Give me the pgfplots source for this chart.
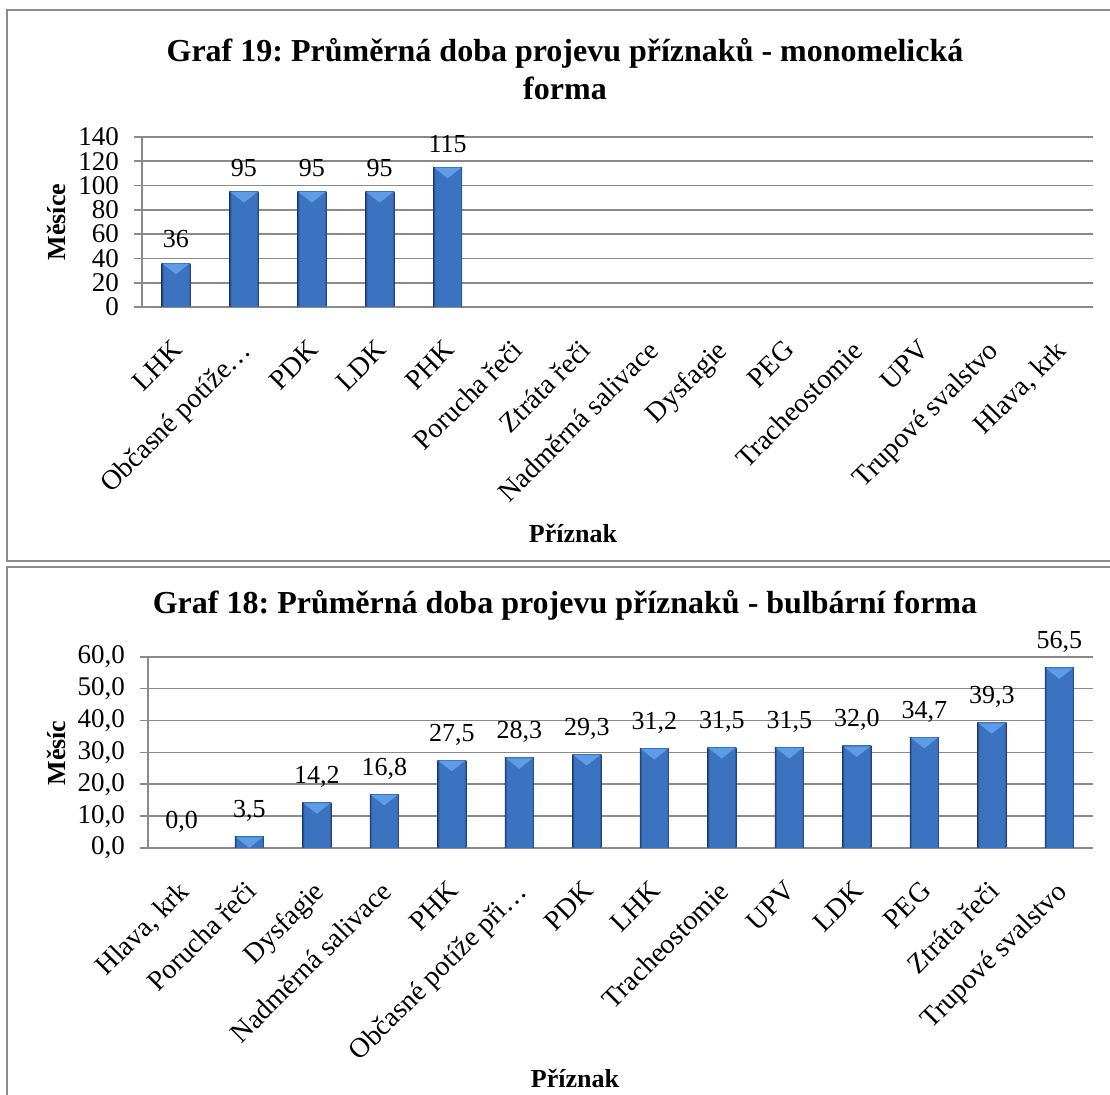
\documentclass[border=0pt]{standalone}
\usepackage{fontspec}
\setmainfont{Liberation Serif}
\usepackage{pgfplots}
\pgfplotsset{compat=1.18}
\definecolor{gridc}{HTML}{8A8A8A}
\definecolor{barmid}{HTML}{3B73C0}
\definecolor{baredge}{HTML}{1D3D70}
\definecolor{bevelc}{HTML}{5E9DE6}
\definecolor{framec}{HTML}{8C8C8C}
\pgfdeclarehorizontalshading{barshade}{100bp}{color(0bp)=(baredge); color(25bp)=(baredge); color(28.5bp)=(barmid); color(71.5bp)=(barmid); color(75bp)=(baredge); color(100bp)=(baredge)}
\pgfdeclareplotmark{bevel}{%
  \pgfpathmoveto{\pgfpoint{-6.6pt}{-0.3pt}}%
  \pgfpathlineto{\pgfpoint{6.6pt}{-0.3pt}}%
  \pgfpathlineto{\pgfpoint{0pt}{-5.5pt}}%
  \pgfpathclose
  \pgfusepathqfill}
\frenchspacing
\pgfplotsset{
  mystyle/.style={
    scale only axis,
    axis x line=bottom, axis y line=left,
    axis line style={gridc, line width=0.8pt, -},
    ymajorgrids, grid style={gridc, line width=0.8pt},
    tick align=outside, major tick length=4pt,
    ytick style={gridc, line width=0.8pt},
    xtick style={draw=none},
    xmin=-0.5, xmax=13.5, xtick={0,...,13},
    yticklabel style={font=\fontsize{13.5}{15}\selectfont, xshift=-4pt, /pgf/number format/assume math mode=true},
    xticklabel style={font=\fontsize{14}{16}\selectfont, yshift=-6.8pt, xshift=-2.5pt, rotate=45, anchor=north east},
    every node near coord/.append style={font=\fontsize{13}{15}\selectfont, black, yshift=4pt, /pgf/number format/assume math mode=true},
    clip=false,
  },
  mybar/.style={ybar, bar shift=0pt, bar width=14.5pt, draw=none, shading=barshade, nodes near coords,
    mark=bevel, mark options={fill=bevelc, draw=none}},
}
\begin{document}
\begin{tikzpicture}
\useasboundingbox (0,0) rectangle (555pt,-547.5pt);
\draw[framec, line width=1pt] (3.5pt,-5pt) rectangle (562pt,-280.5pt);
\draw[framec, line width=1pt] (3.5pt,-283.5pt) rectangle (562pt,-560pt);

% ---------- top chart ----------
\begin{axis}[mystyle,
  at={(71pt,-153.5pt)}, anchor=south west,
  width=475.5pt, height=85pt,
  ymin=0, ymax=140, ytick={0,20,...,140},
  xticklabels={LHK, Občasné potíže…, PDK, LDK, PHK, Porucha řeči, Ztráta řeči, Nadměrná salivace, Dysfagie, PEG, Tracheostomie, UPV, Trupové svalstvo, {Hlava, krk}},
  /pgf/number format/.cd, fixed, precision=0,
]
\addplot[mybar] coordinates {(0,36)};
\addplot[mybar] coordinates {(1,95)};
\addplot[mybar] coordinates {(2,95)};
\addplot[mybar] coordinates {(3,95)};
\addplot[mybar] coordinates {(4,115)};
\end{axis}
\node[font=\fontsize{16}{19}\selectfont\bfseries, align=center] at (282.5pt,-34.5pt) {Graf 19: Průměrná doba projevu příznaků - monomelická\\forma};
\node[font=\fontsize{13}{15}\selectfont\bfseries] at (286.5pt,-266.5pt) {Příznak};
\node[font=\fontsize{13}{15}\selectfont\bfseries, rotate=90] at (28pt,-111pt) {Měsíce};

% ---------- bottom chart ----------
\begin{axis}[mystyle,
  at={(74pt,-424pt)}, anchor=south west,
  width=472.5pt, height=95.65pt,
  ymin=0, ymax=60, ytick={0,10,...,60},
  xticklabels={{Hlava, krk}, Porucha řeči, Dysfagie, Nadměrná salivace, PHK, Občasné potíže při…, PDK, LHK, Tracheostomie, UPV, LDK, PEG, Ztráta řeči, Trupové svalstvo},
  /pgf/number format/.cd, fixed, fixed zerofill, precision=1, use comma,
]
\addplot[draw=none, mark=none, nodes near coords, every node near coord/.append style={anchor=south}] coordinates {(0,0.0)};
\addplot[mybar] coordinates {(1,3.5)};
\addplot[mybar] coordinates {(2,14.2)};
\addplot[mybar] coordinates {(3,16.8)};
\addplot[mybar] coordinates {(4,27.5)};
\addplot[mybar] coordinates {(5,28.3)};
\addplot[mybar] coordinates {(6,29.3)};
\addplot[mybar] coordinates {(7,31.2)};
\addplot[mybar] coordinates {(8,31.5)};
\addplot[mybar] coordinates {(9,31.5)};
\addplot[mybar] coordinates {(10,32.0)};
\addplot[mybar] coordinates {(11,34.7)};
\addplot[mybar] coordinates {(12,39.3)};
\addplot[mybar] coordinates {(13,56.5)};
\end{axis}
\node[font=\fontsize{16}{19}\selectfont\bfseries] at (282.5pt,-302.5pt) {Graf 18: Průměrná doba projevu příznaků - bulbární forma};
\node[font=\fontsize{13}{15}\selectfont\bfseries] at (287.5pt,-539pt) {Příznak};
\node[font=\fontsize{13}{15}\selectfont\bfseries, rotate=90] at (28pt,-376.5pt) {Měsíc};
\end{tikzpicture}
\end{document}
